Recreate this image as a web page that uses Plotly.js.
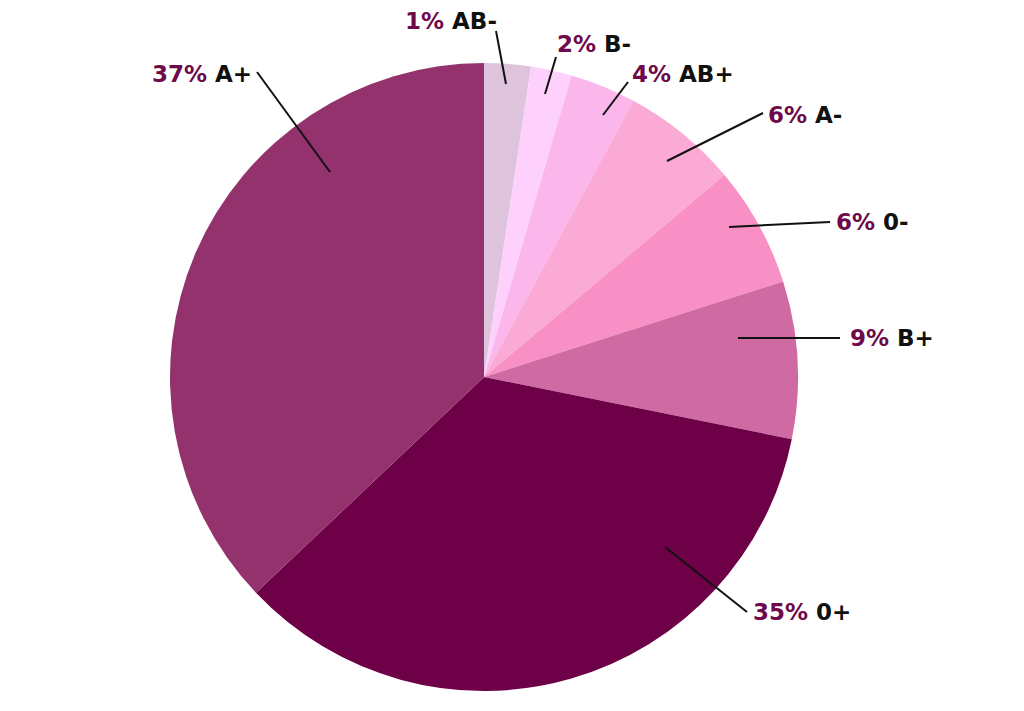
<!DOCTYPE html>
<html>
<head>
<meta charset="utf-8">
<script src="https://cdn.plot.ly/plotly-3.0.1.min.js"></script>
<style>
  html, body { margin: 0; padding: 0; background: #ffffff; }
  #chart { width: 1024px; height: 711px; }
</style>
</head>
<body>
<div id="chart"></div>
<script>
// ---- data ----
const bloodTypes    = ['AB-', 'B-', 'AB+', 'A-', '0-', 'B+', '0+', 'A+'];
const percentLabels = ['1%', '2%', '4%', '6%', '6%', '9%', '35%', '37%'];
// slice sizes as drawn in the reference (share of the full circle, %)
const sliceValues   = [2.4, 2.1, 3.4, 6.0, 6.2, 8.1, 34.8, 37.1];
const sliceColors   = ['#dec3dd', '#fdd1fb', '#fbb6eb', '#fba9d5', '#f890c6', '#d06aa3', '#6d0047', '#93326c'];

// ---- layout geometry (pixels) ----
const W = 1024, H = 711;
const CX = 484, CY = 377, R = 314;
// label placement: text left edge / vertical centre, leader line from (lx1,ly1) to (lx2,ly2)
const labelPlacement = [
  { tx: 404, ty: 21,  lx1: 496, ly1: 31,  lx2: 506, ly2: 84 },
  { tx: 556, ty: 44,  lx1: 556, ly1: 57,  lx2: 545, ly2: 94 },
  { tx: 631, ty: 74,  lx1: 628, ly1: 82,  lx2: 603, ly2: 115 },
  { tx: 767, ty: 115, lx1: 763, ly1: 113, lx2: 667, ly2: 161 },
  { tx: 835, ty: 222, lx1: 830, ly1: 222, lx2: 729, ly2: 227 },
  { tx: 849, ty: 338, lx1: 840, ly1: 338, lx2: 738, ly2: 338 },
  { tx: 752, ty: 612, lx1: 747, ly1: 612, lx2: 665, ly2: 547 },
  { tx: 151, ty: 74,  lx1: 257, ly1: 72,  lx2: 330, ly2: 172 }
];

const px = x => x / W;
const py = y => 1 - y / H;

const trace = {
  type: 'pie',
  labels: bloodTypes,
  values: sliceValues,
  sort: false,
  direction: 'clockwise',
  rotation: 0,
  textinfo: 'none',
  hoverinfo: 'label+percent',
  marker: { colors: sliceColors, line: { width: 0 } },
  domain: { x: [px(CX - R), px(CX + R)], y: [py(CY + R), py(CY - R)] },
  showlegend: false
};

const annotations = bloodTypes.map((t, i) => ({
  xref: 'paper', yref: 'paper',
  x: px(labelPlacement[i].tx), y: py(labelPlacement[i].ty),
  xanchor: 'left', yanchor: 'middle',
  showarrow: false,
  borderpad: 0,
  text: '<span style="color:#6e0a4a">' + percentLabels[i] + '</span> ' + t,
  font: { family: 'DejaVu Sans, sans-serif', size: 23, color: '#111111', weight: 700 }
}));

const shapes = labelPlacement.map(p => ({
  type: 'line', xref: 'paper', yref: 'paper',
  x0: px(p.lx1), y0: py(p.ly1), x1: px(p.lx2), y1: py(p.ly2),
  line: { color: '#111111', width: 2 }
}));

const layout = {
  width: W, height: H,
  margin: { l: 0, r: 0, t: 0, b: 0, pad: 0 },
  paper_bgcolor: '#ffffff',
  plot_bgcolor: '#ffffff',
  annotations: annotations,
  shapes: shapes
};

Plotly.newPlot('chart', [trace], layout, { displayModeBar: false, staticPlot: true });
</script>
</body>
</html>
